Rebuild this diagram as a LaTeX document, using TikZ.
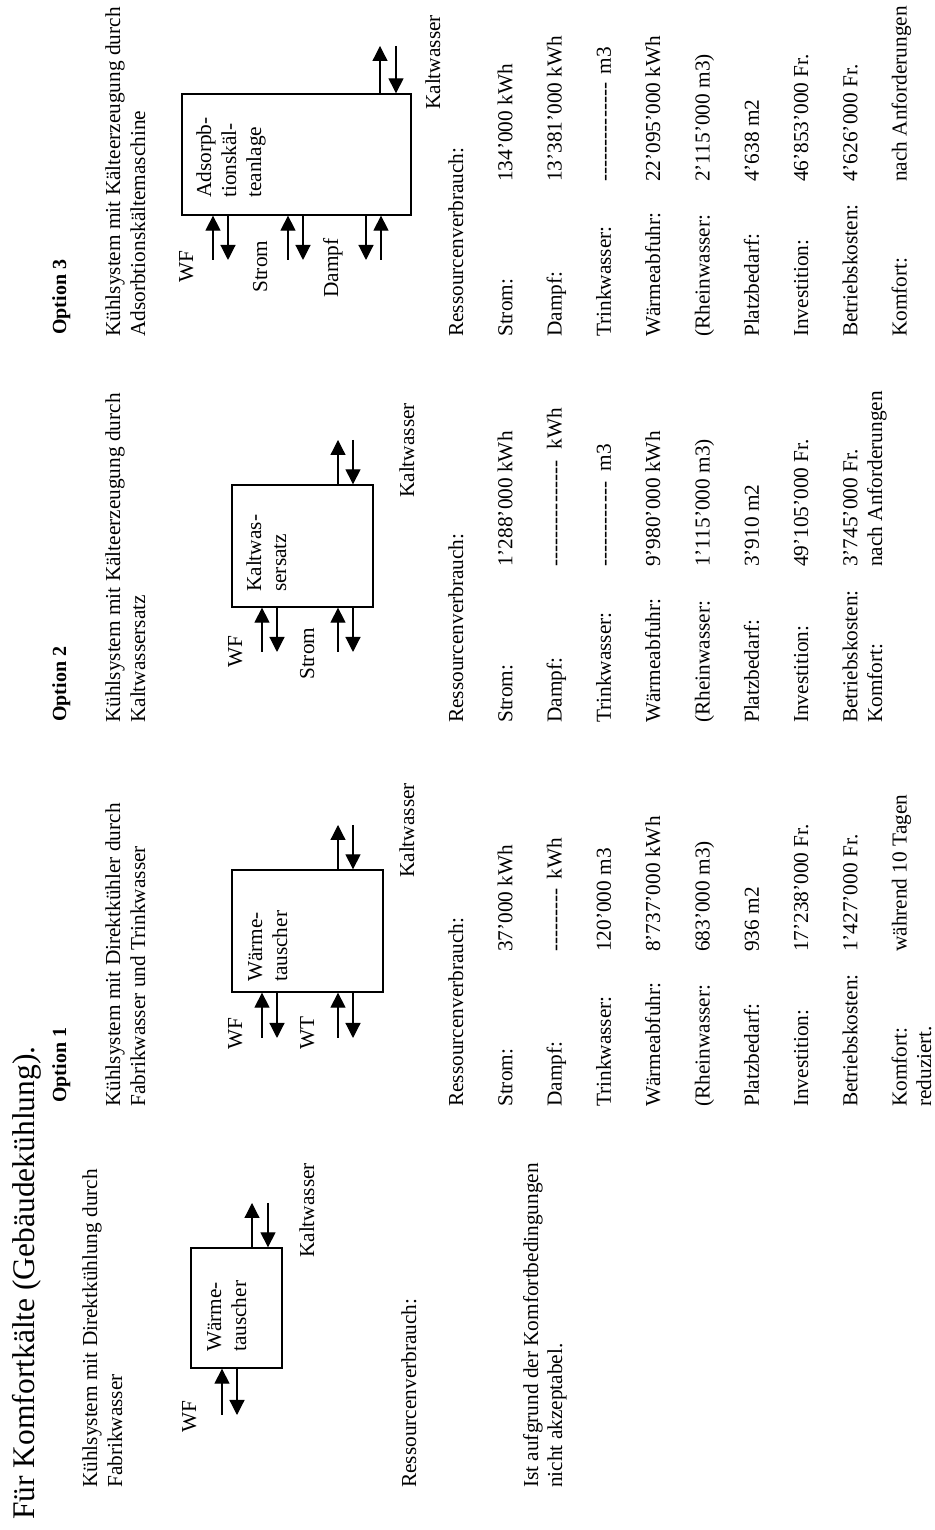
\documentclass[tikz,border=0pt]{standalone}
\usepackage{fontspec}
\setmainfont{Liberation Serif}
\usepackage{tikz}
\usetikzlibrary{arrows.meta}

\newcommand\luecke[1]{\hbox to #1{\leaders\hbox{-}\hfill}}

\begin{document}
\begin{tikzpicture}[x=1pt, y=1pt,
    txt/.style={rotate=90, anchor=base west, inner sep=0pt, font=\fontsize{21.3}{25}\selectfont},
    kopf/.style={txt, font=\bfseries\fontsize{20}{24}\selectfont},
    titel/.style={txt, font=\fontsize{31.5}{36}\selectfont},
    kasten/.style={draw, line width=1.3pt, inner sep=0pt},
    pfeil/.style={line width=1.2pt, -{Triangle[length=15pt,width=15pt]}}]
            \useasboundingbox (0,0) rectangle (934,1530);

            \node[titel] (titel) at (34,10) {Für Komfortkälte (Gebäudekühlung).};

            % ohne Option
            \node[txt] (d0a) at (97,42) {Kühlsystem mit Direktkühlung durch};
            \node[txt] (d0b) at (122,42) {Fabrikwasser};
            \node[kasten, minimum width=91, minimum height=120] (box0) at (236.5,222) {};
            \node[txt] (k0a) at (221,178) {Wärme-};
            \node[txt] (k0b) at (246,178) {tauscher};
            \node[txt] (wf0) at (196,97) {WF};
            \node[txt] (kw0) at (314,272) {Kaltwasser};
            \coordinate (e0) at (222,115);
            \coordinate (f0) at (237,115);
            \coordinate (g0) at (252,327);
            \coordinate (h0) at (268,327);
            \path[pfeil] (e0) edge (e0 |- box0.south);
            \path[pfeil] (f0 |- box0.south) edge (f0);
            \path[pfeil] (g0 |- box0.north) edge (g0);
            \path[pfeil] (h0) edge (h0 |- box0.north);
            \node[txt] (r0) at (416,42) {Ressourcenverbrauch:};
            \node[txt] (n0a) at (538,42) {Ist aufgrund der Komfortbedingungen};
            \node[txt] (n0b) at (562,42) {nicht akzeptabel.};

            % Option 1
            \node[kopf] (o1) at (66,427) {Option 1};
            \node[txt] (d1a) at (120,423) {Kühlsystem mit Direktkühler durch};
            \node[txt] (d1b) at (145,423) {Fabrikwasser und Trinkwasser};
            \node[kasten, minimum width=151, minimum height=122] (box1) at (307.5,599) {};
            \node[txt] (k1a) at (262,548) {Wärme-};
            \node[txt] (k1b) at (287,548) {tauscher};
            \node[txt] (wf1) at (242,480) {WF};
            \node[txt] (wt1) at (314,480) {WT};
            \node[txt] (kw1) at (414,652) {Kaltwasser};
            \foreach \x in {262,338} {
                \coordinate (e1-\x) at (\x,492);
                \path[pfeil] (e1-\x) edge (e1-\x |- box1.south);
            }
            \foreach \x in {277,353} {
                \coordinate (f1-\x) at (\x,492);
                \path[pfeil] (f1-\x |- box1.south) edge (f1-\x);
            }
            \coordinate (g1) at (338,705);
            \coordinate (h1) at (353,705);
            \path[pfeil] (g1 |- box1.north) edge (g1);
            \path[pfeil] (h1) edge (h1 |- box1.north);
            \node[txt] (r1) at (463,423) {Ressourcenverbrauch:};
            \foreach \lab/\val [count=\i] in {Strom:/37’000 kWh, Dampf:/\luecke{67pt} kWh,
                Trinkwasser:/120’000 m3, Wärmeabfuhr:/8’737’000 kWh, {}(Rheinwasser:/683’000 m3),
                Platzbedarf:/936 m2, Investition:/17’238’000 Fr., Betriebskosten:/1’427’000 Fr.,
                Komfort:/während 10 Tagen} {
                \node[txt] (l1-\i) at (463+49.3*\i,423) {\lab};
                \node[txt] (w1-\i) at (463+49.3*\i,578) {\val};
            }
            \node[txt] (l1-10) at (931,423) {reduziert.};

            % Option 2
            \node[kopf] (o2) at (66,808) {Option 2};
            \node[txt] (d2a) at (120,807) {Kühlsystem mit Kälteerzeugung durch};
            \node[txt] (d2b) at (145,807) {Kaltwassersatz};
            \node[kasten, minimum width=141, minimum height=122] (box2) at (302.5,984) {};
            \node[txt] (k2a) at (261,938) {Kaltwas-};
            \node[txt] (k2b) at (286,938) {sersatz};
            \node[txt] (wf2) at (242,862) {WF};
            \node[txt] (st2) at (314,850) {Strom};
            \node[txt] (kw2) at (414,1032) {Kaltwasser};
            \foreach \x in {262,338} {
                \coordinate (e2-\x) at (\x,878);
                \path[pfeil] (e2-\x) edge (e2-\x |- box2.south);
            }
            \foreach \x in {277,353} {
                \coordinate (f2-\x) at (\x,878);
                \path[pfeil] (f2-\x |- box2.south) edge (f2-\x);
            }
            \coordinate (g2) at (338,1090);
            \coordinate (h2) at (353,1090);
            \path[pfeil] (g2 |- box2.north) edge (g2);
            \path[pfeil] (h2) edge (h2 |- box2.north);
            \node[txt] (r2) at (463,807) {Ressourcenverbrauch:};
            \foreach \lab/\val [count=\i] in {Strom:/1’288’000 kWh, Dampf:/\luecke{112pt} kWh,
                Trinkwasser:/\luecke{90pt} m3, Wärmeabfuhr:/9’980’000 kWh, {}(Rheinwasser:/1’115’000 m3),
                Platzbedarf:/3’910 m2, Investition:/49’105’000 Fr., Betriebskosten:/3’745’000 Fr.} {
                \node[txt] (l2-\i) at (463+49.3*\i,807) {\lab};
                \node[txt] (w2-\i) at (463+49.3*\i,963) {\val};
            }
            \node[txt] (l2-9) at (882,807) {Komfort:};
            \node[txt] (w2-9) at (882,963) {nach Anforderungen};

            % Option 3
            \node[kopf] (o3) at (66,1195) {Option 3};
            \node[txt] (d3a) at (120,1193) {Kühlsystem mit Kälteerzeugung durch};
            \node[txt] (d3b) at (145,1193) {Adsorbtionskältemaschine};
            \node[kasten, minimum width=229, minimum height=121] (box3) at (296.5,1375.5) {};
            \node[txt] (k3a) at (211,1332) {Adsorpb-};
            \node[txt] (k3b) at (236,1332) {tionskäl-};
            \node[txt] (k3c) at (261,1332) {teanlage};
            \node[txt] (wf3) at (193,1247) {WF};
            \node[txt] (st3) at (267,1237) {Strom};
            \node[txt] (da3) at (338,1232) {Dampf};
            \node[txt] (kw3) at (440,1420) {Kaltwasser};
            \foreach \x in {213,288,381} {
                \coordinate (e3-\x) at (\x,1270);
                \path[pfeil] (e3-\x) edge (e3-\x |- box3.south);
            }
            \foreach \x in {228,303,366} {
                \coordinate (f3-\x) at (\x,1270);
                \path[pfeil] (f3-\x |- box3.south) edge (f3-\x);
            }
            \coordinate (g3) at (380,1484);
            \coordinate (h3) at (396,1484);
            \path[pfeil] (g3 |- box3.north) edge (g3);
            \path[pfeil] (h3) edge (h3 |- box3.north);
            \node[txt] (r3) at (463,1193) {Ressourcenverbrauch:};
            \foreach \lab/\val [count=\i] in {Strom:/134’000 kWh, Dampf:/13’381’000 kWh,
                Trinkwasser:/\luecke{102pt} m3, Wärmeabfuhr:/22’095’000 kWh, {}(Rheinwasser:/2’115’000 m3),
                Platzbedarf:/4’638 m2, Investition:/46’853’000 Fr., Betriebskosten:/4’626’000 Fr.,
                Komfort:/nach Anforderungen} {
                \node[txt] (l3-\i) at (463+49.3*\i,1193) {\lab};
                \node[txt] (w3-\i) at (463+49.3*\i,1348) {\val};
            }

        \end{tikzpicture}
\end{document}
